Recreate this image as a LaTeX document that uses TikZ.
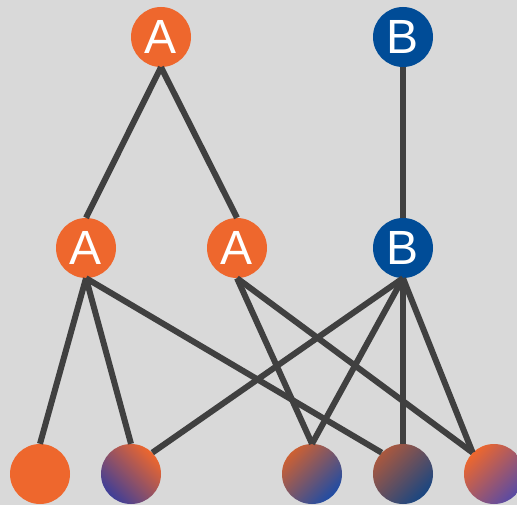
\documentclass[tikz,border=0pt]{standalone}
\usepackage{fontspec}
\setmainfont{Liberation Sans}
\usetikzlibrary{positioning}
\tikzset{>=latex}
\definecolor{bg}{RGB}{217,217,217}
\definecolor{orng}{RGB}{238,103,45}
\definecolor{blu}{RGB}{0,76,151}
\definecolor{edge}{RGB}{64,64,64}
\definecolor{purp}{RGB}{62,62,152}
\tikzset{
  ball/.style={circle, minimum size=60pt, inner sep=0pt, text=white,
    font=\fontsize{48}{48}\selectfont},
  link/.style={draw=edge, line width=6pt},
}

\begin{document}
\begin{tikzpicture}[x=1pt,y=-1pt]
      \fill[bg] (0,0) rectangle (517,505);
      \clip (0,0) rectangle (517,505);
      % top row
      \node[ball, fill=orng] (A0) at (161,37) {A};
      \node[ball, fill=blu] (B0) at (403,37) {B};
      % middle row
      \node[ball, fill=orng] (A1) at (86,248) {A};
      \node[ball, fill=orng] (A2) at (237,248) {A};
      \node[ball, fill=blu] (B1) at (403,248) {B};
      % bottom row
      \node[ball, fill=orng] (L1) at (40,474) {};
      \node[ball, top color=orng, bottom color=purp, shading angle=-45] (L2) at (131,474) {};
      \node[ball, top color={rgb,255:red,205;green,96;blue,50}, bottom color={rgb,255:red,30;green,76;blue,165}, shading angle=45] (L3) at (312,474) {};
      \node[ball, top color={rgb,255:red,170;green,88;blue,62}, bottom color={rgb,255:red,24;green,70;blue,130}, shading angle=45] (L4) at (403,474) {};
      \node[ball, top color=orng, bottom color={rgb,255:red,88;green,74;blue,165}, shading angle=45] (L5) at (494,474) {};
      %
      \draw[link] (A0.south) -- (A1.north);
      \draw[link] (A0.south) -- (A2.north);
      \draw[link] (B0.south) -- (B1.north);
      \foreach \X in {L1.north,L2.north,L4.135} {%
        \draw[link] (A1.south) -- (\X);
      }
      \foreach \X in {L3.north,L5.135} {%
        \draw[link] (A2.south) -- (\X);
      }
      \foreach \X in {L2.45,L3.north,L4.north,L5.135} {%
        \draw[link] (B1.south) -- (\X);
      }
    \end{tikzpicture}
\end{document}
